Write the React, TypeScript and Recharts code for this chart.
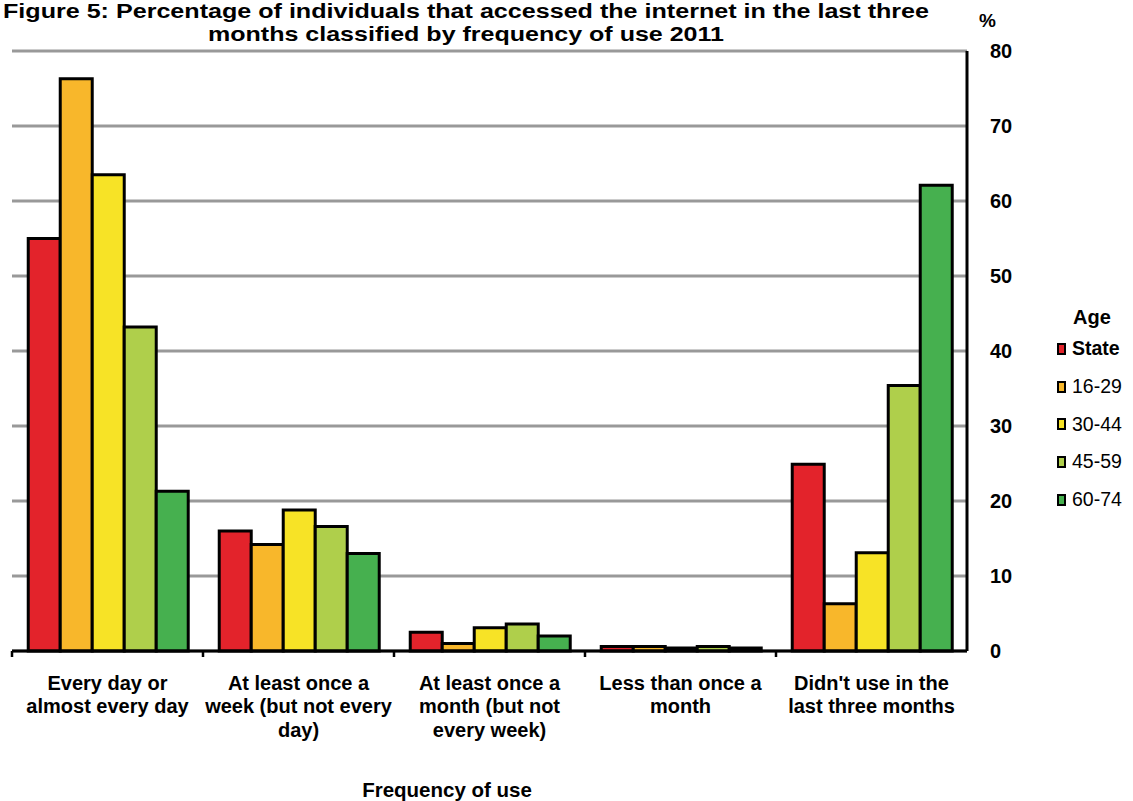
import React from 'react';
import { BarChart, Bar, XAxis, YAxis, CartesianGrid, Legend } from 'recharts';

const categories = [
  'Every day or almost every day',
  'At least once a week (but not every day)',
  'At least once a month (but not every week)',
  'Less than once a month',
  "Didn't use in the last three months",
];
const categoryLines = [
  ['Every day or', 'almost every day'],
  ['At least once a', 'week (but not every', 'day)'],
  ['At least once a', 'month (but not', 'every week)'],
  ['Less than once a', 'month'],
  ["Didn't use in the", 'last three months'],
];

const seriesNames = ['State', '16-29', '30-44', '45-59', '60-74'];
const seriesColors = ['#E3232B', '#F8B72B', '#F7E326', '#AFCF4B', '#46B04F'];

const state = [55.0, 16.0, 2.5, 0.6, 24.9];
const age1629 = [76.3, 14.2, 1.0, 0.6, 6.3];
const age3044 = [63.5, 18.8, 3.1, 0.4, 13.1];
const age4559 = [43.2, 16.6, 3.6, 0.6, 35.4];
const age6074 = [21.3, 13.0, 2.0, 0.4, 62.1];
const seriesValues = [state, age1629, age3044, age4559, age6074];

const yTicks = [0, 10, 20, 30, 40, 50, 60, 70, 80];

const FONT = '"Liberation Sans", Arial, Helvetica, sans-serif';
const W = 1133;
const H = 801;
const MARGIN = { top: 51, right: 106, left: 12, bottom: 50 };
const Y_AXIS_W = 60;
const PLOT_W = W - MARGIN.left - MARGIN.right - Y_AXIS_W;

const data = categories.map((name, i) => {
  const row: Record<string, string | number> = { name };
  seriesNames.forEach((s, k) => {
    row[s] = seriesValues[k][i];
  });
  return row;
});

function CategoryTick(props: any) {
  const { x, y, payload } = props;
  const idx = categories.indexOf(payload.value);
  const lines = categoryLines[idx] || [];
  const band = PLOT_W / categories.length;
  return (
    <g>
      <line x1={x - band / 2} x2={x - band / 2} y1={y} y2={y + 6} stroke="#000" strokeWidth={2.5} />
      <text textAnchor="middle" fill="#000" fontFamily={FONT} fontSize={20} fontWeight={700}>
        {lines.map((l, i) => (
          <tspan key={i} x={x} y={y + 38.5 + i * 23.5}>
            {l}
          </tspan>
        ))}
      </text>
    </g>
  );
}

function AgeLegend(props: any) {
  const items = [...(props.payload || [])].sort(
    (a: any, b: any) => seriesNames.indexOf(a.value) - seriesNames.indexOf(b.value)
  );
  return (
    <div style={{ fontFamily: FONT, color: '#000', width: 70 }}>
      <div style={{ height: 25, lineHeight: '25px', textAlign: 'center', fontWeight: 700, fontSize: 20 }}>Age</div>
      {items.map((p: any) => (
        <div key={p.value} style={{ height: 37.7, display: 'flex', alignItems: 'center' }}>
          <span
            style={{
              display: 'inline-block',
              width: 5,
              height: 8,
              background: p.color,
              border: '2.5px solid #000',
              marginRight: 6,
            }}
          />
          <span style={{ fontSize: 19.5, fontWeight: p.value === 'State' ? 700 : 400 }}>{p.value}</span>
        </div>
      ))}
    </div>
  );
}

export default function App() {
  return (
    <div style={{ position: 'absolute', left: 0, top: 0, width: W, height: H, background: '#fff' }}>
      <BarChart width={W} height={H} data={data} margin={MARGIN} barCategoryGap="8.5%" barGap={0}>
        <CartesianGrid horizontal vertical={false} stroke="#999" strokeWidth={3} />
        <XAxis
          dataKey="name"
          interval={0}
          height={100}
          tickSize={0}
          tickMargin={0}
          tickLine={false}
          axisLine={{ stroke: '#000', strokeWidth: 3 }}
          tick={<CategoryTick />}
        />
        <YAxis
          orientation="right"
          width={Y_AXIS_W}
          domain={[0, 80]}
          ticks={yTicks}
          interval={0}
          tickSize={0}
          tickMargin={23}
          tickLine={false}
          axisLine={{ stroke: '#000', strokeWidth: 3 }}
          tick={{ fill: '#000', fontSize: 20, fontWeight: 700, fontFamily: FONT }}
        />
        <Legend
          layout="vertical"
          align="center"
          verticalAlign="middle"
          content={<AgeLegend />}
          wrapperStyle={{ left: 1057, top: 305, width: 80 }}
        />
        {seriesNames.map((s, k) => (
          <Bar
            key={s}
            dataKey={s}
            name={s}
            fill={seriesColors[k]}
            stroke="#000"
            strokeWidth={3}
            isAnimationActive={false}
          />
        ))}
      </BarChart>
      <svg
        width={W}
        height={H}
        style={{ position: 'absolute', left: 0, top: 0, pointerEvents: 'none' }}
      >
        <g fontFamily={FONT} fontWeight={700} fill="#000" style={{ whiteSpace: 'pre' }}>
          <text x={466} y={18} textAnchor="middle" fontSize={20} textLength={926} lengthAdjust="spacingAndGlyphs">
            Figure 5: Percentage  of individuals that accessed  the internet in the last three
          </text>
          <text x={466} y={41} textAnchor="middle" fontSize={20.5} textLength={516} lengthAdjust="spacingAndGlyphs">
            months classified by frequency  of use 2011
          </text>
          <text x={979} y={27} fontSize={19}>
            %
          </text>
          <text x={447} y={797} textAnchor="middle" fontSize={20.5}>
            Frequency of use
          </text>
        </g>
      </svg>
    </div>
  );
}
